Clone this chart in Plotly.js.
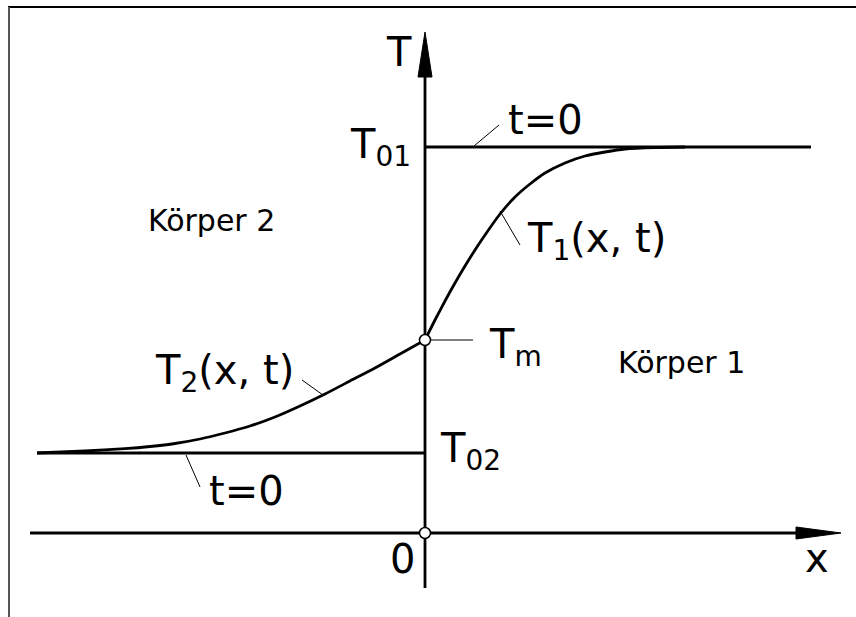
<!DOCTYPE html>
<html>
<head>
<meta charset="utf-8">
<script src="https://cdn.plot.ly/plotly-3.0.1.min.js"></script>
<style>
  html, body { margin: 0; padding: 0; background: #fff; }
  #chart { width: 856px; height: 617px; }
</style>
</head>
<body>
<div id="chart"></div>
<script>
// Temperature levels (arbitrary units)
const T01 = 3.86;   // initial temperature of body 1
const T02 = 0.80;   // initial temperature of body 2
const Tm  = 1.93;   // contact temperature at the interface x = 0

// Profile T1(x, t) in body 1 (x > 0)
const x1 = [0, 0.1, 0.2, 0.3, 0.4, 0.5, 0.6, 0.75, 0.9, 1.05, 1.2, 1.4, 1.6, 1.8, 2.0, 2.3, 2.6];
const t1 = [1.93, 2.13, 2.32, 2.50, 2.67, 2.83, 2.98, 3.19, 3.36, 3.49, 3.60, 3.70, 3.77, 3.81, 3.84, 3.855, 3.86];

// Profile T2(x, t) in body 2 (x < 0)
const x2 = [-3.88, -3.4, -3.0, -2.75, -2.5, -2.25, -2.0, -1.75, -1.5, -1.25, -1.0, -0.75, -0.5, -0.25, 0];
const t2 = [0.80, 0.82, 0.843, 0.865, 0.895, 0.94, 1.00, 1.07, 1.16, 1.27, 1.39, 1.52, 1.65, 1.79, 1.93];

// Initial state t = 0 (step profile)
const xInit1 = [0, 3.86];
const xInit2 = [-3.88, 0];

// Axis extents
const xAxisFrom = -3.95, xAxisTip = 4.16;
const tAxisFrom = -0.55, tAxisTip = 5.01;

const FONT = '"DejaVu Sans", Verdana, sans-serif';
const black = '#000';
const W = 2.8;

const traces = [
  // coordinate axes
  { x: [xAxisFrom, xAxisTip - 0.3], y: [0, 0], mode: 'lines', line: { color: black, width: W } },
  { x: [0, 0], y: [tAxisFrom, tAxisTip - 0.3], mode: 'lines', line: { color: black, width: W } },
  // arrow heads
  { x: [xAxisTip, xAxisTip - 0.45, xAxisTip - 0.45, xAxisTip], y: [0, 0.06, -0.06, 0],
    mode: 'lines', fill: 'toself', fillcolor: black, line: { color: black, width: 1 } },
  { x: [0, 0.07, -0.07, 0], y: [tAxisTip, tAxisTip - 0.45, tAxisTip - 0.45, tAxisTip],
    mode: 'lines', fill: 'toself', fillcolor: black, line: { color: black, width: 1 } },
  // t = 0 levels
  { x: xInit1, y: [T01, T01], mode: 'lines', line: { color: black, width: W } },
  { x: xInit2, y: [T02, T02], mode: 'lines', line: { color: black, width: W } },
  // temperature profiles
  { x: x1, y: t1, mode: 'lines', line: { color: black, width: W, shape: 'spline', smoothing: 0.7 } },
  { x: x2, y: t2, mode: 'lines', line: { color: black, width: W, shape: 'spline', smoothing: 0.7 } },
  // contact point and origin
  { x: [0, 0], y: [Tm, 0], mode: 'markers',
    marker: { size: 11, color: '#fff', line: { color: black, width: 1.5 } } }
];

// thin leader lines from labels to the curves
const leaders = [
  [0.49, 3.87, 0.74, 4.08],
  [0.75, 3.22, 0.95, 2.88],
  [0.06, Tm, 0.48, Tm],
  [-1.23, 1.53, -1.02, 1.38],
  [-2.39, 0.78, -2.25, 0.46]
];
const shapes = leaders.map(([xa, ya, xb, yb]) => ({
  type: 'line', xref: 'x', yref: 'y', x0: xa, y0: ya, x1: xb, y1: yb,
  line: { color: black, width: 1 }
}));
// drawing frame
shapes.push({ type: 'line', xref: 'paper', yref: 'paper', x0: 8/856, x1: 1, y0: 1 - 7/617, y1: 1 - 7/617,
  line: { color: black, width: 2 } });
shapes.push({ type: 'line', xref: 'paper', yref: 'paper', x0: 9/856, x1: 9/856, y0: 0, y1: 1 - 7/617,
  line: { color: '#555', width: 2 } });

function label(text, x, y, xanchor, size) {
  return { text, x, y, xref: 'x', yref: 'y', xanchor, yanchor: 'middle', showarrow: false,
           font: { family: FONT, size: size || 40, color: black } };
}

const annotations = [
  label('T', -0.265, 4.81, 'center'),
  label('T<sub>01</sub>', -0.12, 3.86, 'right'),
  label('t=0', 0.81, 4.135, 'left'),
  label('T<sub>1</sub>(x, t)', 1.00, 2.92, 'left'),
  label('Körper 2', -2.79, 3.13, 'left', 30),
  label('T<sub>m</sub>', 0.62, 1.86, 'left'),
  label('Körper 1', 1.91, 1.705, 'left', 30),
  label('T<sub>2</sub>(x, t)', -2.72, 1.60, 'left'),
  label('T<sub>02</sub>', 0.13, 0.82, 'left'),
  label('t=0', -2.18, 0.42, 'left'),
  label('0', -0.225, -0.26, 'center'),
  label('x', 3.915, -0.25, 'center')
];

const layout = {
  width: 856, height: 617,
  margin: { l: 0, r: 0, t: 0, b: 0 },
  paper_bgcolor: '#fff', plot_bgcolor: '#fff',
  showlegend: false,
  xaxis: { range: [-4.25, 4.31], visible: false, fixedrange: true },
  yaxis: { range: [-0.84, 5.33], visible: false, fixedrange: true },
  shapes, annotations
};

Plotly.newPlot('chart', traces, layout, { staticPlot: true, displayModeBar: false });
</script>
</body>
</html>
